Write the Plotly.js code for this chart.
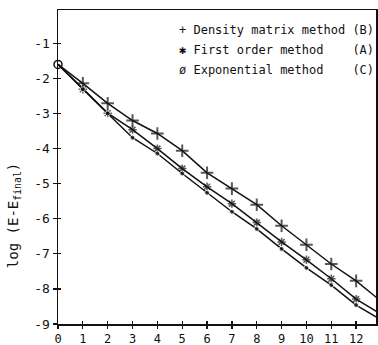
<!DOCTYPE html>
<html>
<head>
<meta charset="utf-8">
<script src="https://cdn.plot.ly/plotly-3.0.1.min.js"></script>
<style>html,body{margin:0;padding:0;background:#fff;}#chart{width:378px;height:345px;}</style>
</head>
<body>
<div id="chart"></div>
<script>
// iterations (last point is the line continuing past the frame, no marker)
var iterations = [0, 1, 2, 3, 4, 5, 6, 7, 8, 9, 10, 11, 12, 13];
var densityB     = [-1.6, -2.14, -2.71, -3.2, -3.57, -4.06, -4.69, -5.14, -5.6, -6.2, -6.74, -7.29, -7.77, -8.35];
var firstOrderA  = [-1.6, -2.31, -2.99, -3.46, -4.0, -4.57, -5.09, -5.57, -6.11, -6.66, -7.17, -7.71, -8.29, -8.72];
var exponentialC = [-1.6, -2.31, -3.0, -3.69, -4.14, -4.71, -5.26, -5.8, -6.29, -6.86, -7.4, -7.89, -8.46, -8.88];
var xTicks = [0, 1, 2, 3, 4, 5, 6, 7, 8, 9, 10, 11, 12];
var yTicks = [-1, -2, -3, -4, -5, -6, -7, -8, -9];
var legendLabels = [
  "+ Density matrix method (B)",
  "\u2731 First order method\u00a0\u00a0\u00a0\u00a0(A)",
  "\u00f8 Exponential method\u00a0\u00a0\u00a0\u00a0(C)"
];

function sizes(n, s, first) {
  var a = [];
  for (var i = 0; i < n; i++) a.push(i === n - 1 ? 0 : s);
  if (first !== undefined) a[0] = first;
  return a;
}
var n = iterations.length;
var lineStyle = {color: "#111", width: 1.5};

var traces = [
  {x: iterations, y: densityB, mode: "lines+markers", line: lineStyle,
   marker: {symbol: "cross-thin-open", size: sizes(n, 9, 0), color: "#111", line: {width: 2, color: "#111"}},
   showlegend: false, hoverinfo: "skip", cliponaxis: true},
  {x: iterations, y: firstOrderA, mode: "lines+markers", line: lineStyle,
   marker: {symbol: "asterisk-open", size: sizes(n, 7, 0), color: "#111", line: {width: 1.5, color: "#111"}},
   showlegend: false, hoverinfo: "skip", cliponaxis: true},
  {x: iterations, y: exponentialC, mode: "lines+markers", line: lineStyle,
   marker: {symbol: "circle", size: sizes(n, 5, 0), color: "#111"},
   showlegend: false, hoverinfo: "skip", cliponaxis: true},
  {x: [iterations[0]], y: [exponentialC[0]], mode: "markers",
   marker: {symbol: "circle-open", size: 8, color: "#111", line: {width: 1.5, color: "#111"}},
   showlegend: false, hoverinfo: "skip", cliponaxis: false},
  {x: [0], y: [-5], xaxis: "x2", yaxis: "y2", mode: "markers", marker: {size: 1, opacity: 0},
   showlegend: false, hoverinfo: "skip"}
];

var font = {family: "DejaVu Sans Mono, monospace", size: 12, color: "#111"};
var layout = {
  width: 378, height: 345,
  margin: {l: 58, r: 2, t: 10, b: 21},
  paper_bgcolor: "#fff", plot_bgcolor: "#fff",
  showlegend: false,
  font: font,
  xaxis: {range: [0, 12.8], tickvals: xTicks, ticktext: xTicks.map(String),
          ticks: "outside", ticklen: 3, tickwidth: 1.3, tickcolor: "#111",
          showline: true, linecolor: "#111", linewidth: 1.5, mirror: true,
          showgrid: false, zeroline: false, tickfont: font},
  yaxis: {range: [-9, -0.05], tickvals: yTicks, ticktext: yTicks.map(String),
          ticks: "outside", ticklen: 4, tickwidth: 1.3, tickcolor: "#111",
          showline: true, linecolor: "#111", linewidth: 1.5, mirror: true,
          showgrid: false, zeroline: false, tickfont: {family: font.family, size: 13, color: "#111"}},
  xaxis2: {overlaying: "x", anchor: "y2", range: [0, 12.8], tickvals: xTicks, showticklabels: false,
           ticks: "inside", ticklen: 3, tickwidth: 1.3, tickcolor: "#111", showline: false, showgrid: false, zeroline: false},
  yaxis2: {overlaying: "y", anchor: "x2", side: "left", range: [-9, -0.05], tickvals: yTicks, showticklabels: false,
           ticks: "inside", ticklen: 3, tickwidth: 1.3, tickcolor: "#111", showline: false, showgrid: false, zeroline: false},
  annotations: [
    {text: "log (E-E<sub>final</sub>)", xref: "paper", yref: "paper", x: -0.14, y: 0.345,
     xanchor: "center", yanchor: "middle", textangle: -90, showarrow: false,
     font: {family: font.family, size: 14, color: "#111"}},
    {text: legendLabels[0], xref: "paper", yref: "paper", x: 1.0, y: 0.935, xanchor: "right", yanchor: "middle",
     showarrow: false, font: font},
    {text: legendLabels[1], xref: "paper", yref: "paper", x: 1.0, y: 0.872, xanchor: "right", yanchor: "middle",
     showarrow: false, font: font},
    {text: legendLabels[2], xref: "paper", yref: "paper", x: 1.0, y: 0.81, xanchor: "right", yanchor: "middle",
     showarrow: false, font: font}
  ]
};

Plotly.newPlot("chart", traces, layout, {displayModeBar: false, staticPlot: true});
</script>
</body>
</html>
